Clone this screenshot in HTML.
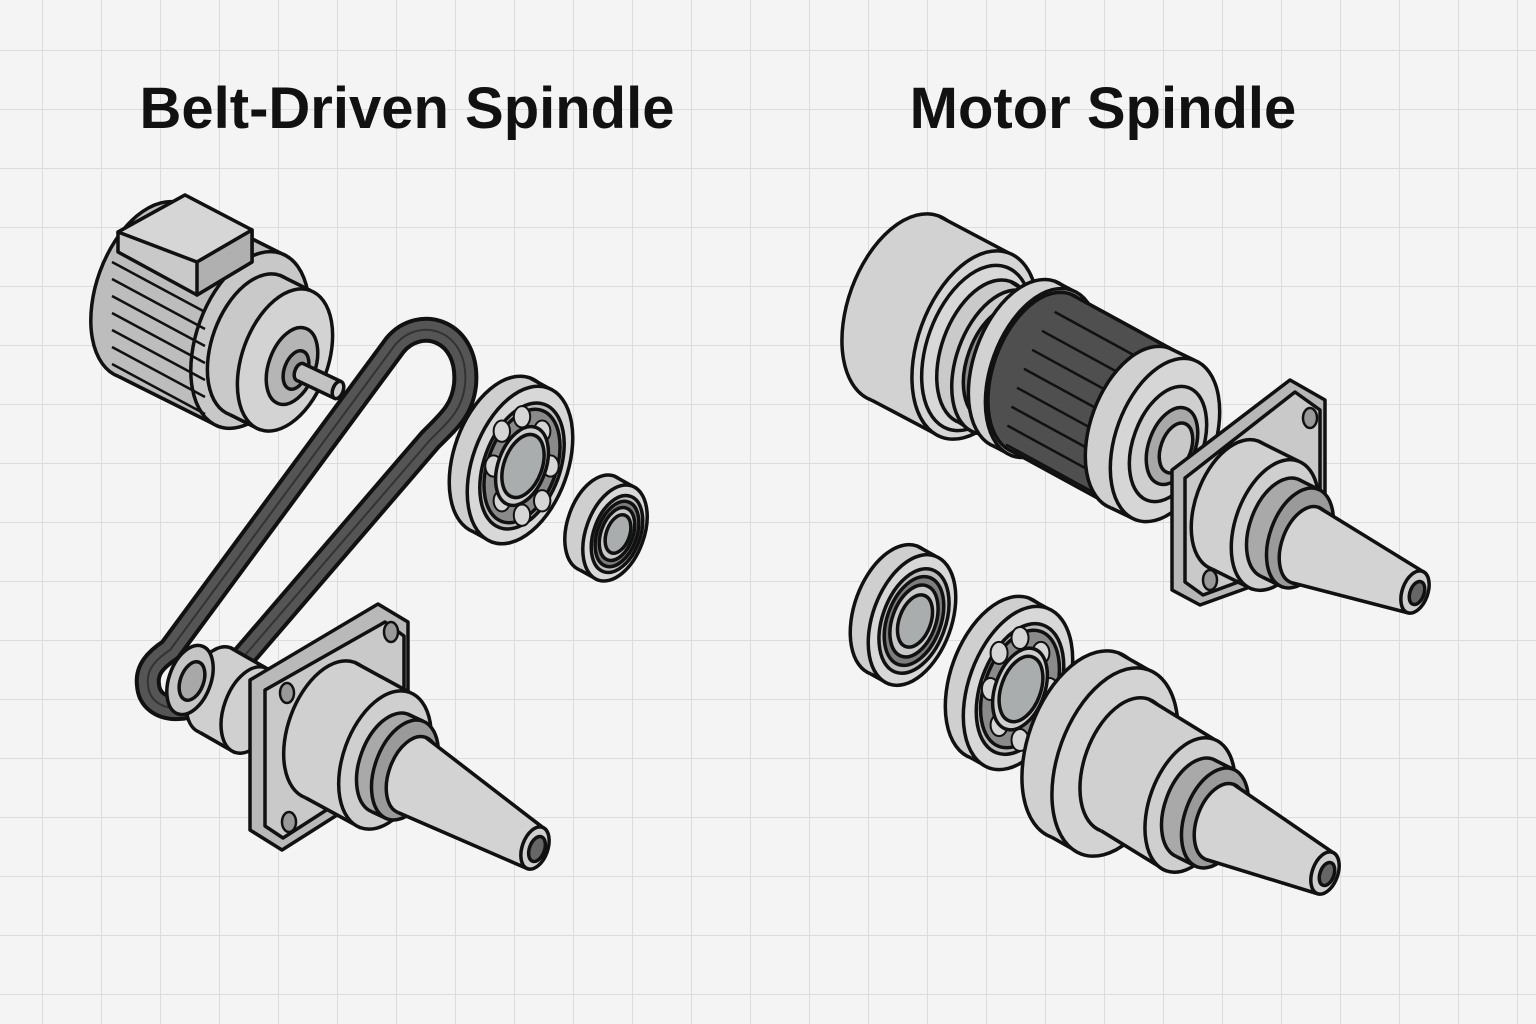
<!DOCTYPE html>
<html><head><meta charset="utf-8">
<style>
html,body{margin:0;padding:0;width:1536px;height:1024px;overflow:hidden;background:#f3f3f3;}
svg{display:block}
</style></head>
<body>
<svg id="s" width="1536" height="1024" viewBox="0 0 1536 1024" xmlns="http://www.w3.org/2000/svg">
<defs>
<pattern id="g" x="42" y="-9" width="59" height="59" patternUnits="userSpaceOnUse">
<path d="M0 0H59M0 0V59" stroke="#dcdcdc" stroke-width="2" fill="none"/>
</pattern>
</defs>
<rect width="1536" height="1024" fill="#f4f4f4"/>
<rect width="1536" height="1024" fill="url(#g)"/>
<text x="407" y="128" text-anchor="middle" font-family="Liberation Sans, sans-serif" font-weight="bold" font-size="58" fill="#111">Belt-Driven Spindle</text>
<text x="1103" y="128" text-anchor="middle" font-family="Liberation Sans, sans-serif" font-weight="bold" font-size="58" fill="#111">Motor Spindle</text>
<g id="d" stroke="#111" stroke-width="3.5" stroke-linejoin="round"></g>
</svg>
<script>
var d=document.getElementById('d'),h='';
var TX=0.34,TY=-0.94;
function E(cx,cy,R,f,sw){h+='<ellipse cx="'+cx+'" cy="'+cy+'" rx="'+(R*0.58)+'" ry="'+R+'" transform="rotate(20 '+cx+' '+cy+')" fill="'+f+'"'+(sw?' stroke-width="'+sw+'"':'')+'/>';}
function C(x1,y1,x2,y2,R1,R2,f,ff){
 h+='<polygon points="'+(x1+R1*TX)+','+(y1+R1*TY)+' '+(x2+R2*TX)+','+(y2+R2*TY)+' '+(x2-R2*TX)+','+(y2-R2*TY)+' '+(x1-R1*TX)+','+(y1-R1*TY)+'" fill="'+f+'"/>';
 E(x1,y1,R1,f);
 h+='<polygon points="'+(x1+R1*TX)+','+(y1+R1*TY)+' '+(x2+R2*TX)+','+(y2+R2*TY)+' '+(x2-R2*TX)+','+(y2-R2*TY)+' '+(x1-R1*TX)+','+(y1-R1*TY)+'" fill="'+f+'" stroke="none"/>';
 h+='<line x1="'+(x1+R1*TX)+'" y1="'+(y1+R1*TY)+'" x2="'+(x2+R2*TX)+'" y2="'+(y2+R2*TY)+'"/>';
 h+='<line x1="'+(x1-R1*TX)+'" y1="'+(y1-R1*TY)+'" x2="'+(x2-R2*TX)+'" y2="'+(y2-R2*TY)+'"/>';
 E(x2,y2,R2,ff||'#d4d4d4');}
function P(pts,f){h+='<polygon points="'+pts+'" fill="'+f+'"/>';}
function bearing(cx,cy,R,balls){
 C(cx-18,cy-10,cx,cy,R,R,'#cfcfcf','#d8d8d8');
 E(cx+2,cy+1,R*0.8,'#bdbdbd');
 if(balls){E(cx+2,cy+1,R*0.72,'#8a8a8a');
  for(var i=0;i<8;i++){var a=i*Math.PI/4,bx=cx+2+R*0.6*0.58*Math.cos(a),by=cy+1+R*0.6*Math.sin(a);h+='<ellipse cx="'+bx+'" cy="'+by+'" rx="'+R*0.1+'" ry="'+R*0.13+'" fill="#d6d6d6" stroke-width="2"/>';}
  E(cx+2,cy+1,R*0.5,'#cfcfcf');}
 else {E(cx+2,cy+1,R*0.68,'#7d7d7d');E(cx+2,cy+1,R*0.55,'#c9c9c9');}
 E(cx+3,cy+1,R*0.4,'#a9adad');
}
/* ---- Left motor ---- */
C(150,290,250,340,92,92,'#bdbdbd','#c8c8c8');
for(var i=0;i<7;i++){var y=262+i*17;h+='<line x1="'+(112)+'" y1="'+(y)+'" x2="'+(205)+'" y2="'+(y+50)+'" stroke-width="2.5"/>';}
P('118,232 185,195 252,230 252,262 197,295 118,252','#c9c9c9');
P('118,232 185,195 252,230 197,262','#d6d6d6');
P('197,262 252,230 252,262 197,295','#b0b0b0');
C(255,345,285,360,74,74,'#c9c9c9','#d3d3d3');
E(292,366,40,'#b5b5b5');
E(296,370,20,'#9c9c9c');
C(300,372,338,390,9,9,'#c2c2c2','#cfcfcf');
/* belt */
var belt='M170,650 L395,345 C420,315 470,330 465,385 C462,410 450,420 430,440 L215,690 C195,715 150,715 148,685 C146,670 155,660 170,650 Z';
h+='<path d="'+belt+'" fill="none" stroke="#111" stroke-width="26"/>';
h+='<path d="'+belt+'" fill="none" stroke="#555" stroke-width="18"/>';
h+='<path d="'+belt+'" fill="none" stroke="#333" stroke-width="2"/>';
/* left bearings */
bearing(520,465,82,true);
bearing(615,533,50,false);
/* left spindle */
C(215,690,250,710,45,45,'#cfcfcf','#d0d0d0');
E(190,680,36,'#c5c5c5');E(192,681,20,'#a8a8a8');
P('250,680 378,604 408,622 408,770 282,850 250,830','#b9b9b9');
P('265,690 385,622 404,636 404,760 283,838 265,826','#c9c9c9');
[[287,693],[391,632],[394,745],[289,822]].forEach(function(p){h+='<ellipse cx="'+p[0]+'" cy="'+p[1]+'" rx="7" ry="10" fill="#999" stroke-width="2.5"/>';});
C(330,730,385,760,72,72,'#d0d0d0','#cfcfcf');
C(390,763,405,770,52,52,'#a9a9a9','#9a9a9a');
C(412,775,535,848,40,22,'#d3d3d3','#cfcfcf');
E(537,849,13,'#666');
/* ---- Right motor spindle ---- */
C(905,308,975,345,98,98,'#d2d2d2','#d6d6d6');
E(977,348,86,'#d8d8d8');
C(985,352,1000,362,75,75,'#cacaca','#cdcdcd');
E(1002,363,60,'#8d8d8d');E(1004,364,48,'#c3c3c3');E(1006,365,36,'#b5b5b5');
C(1025,364,1042,373,88,88,'#d2d2d2','#d8d8d8');
C(1042,373,1150,432,84,84,'#4f4f4f','#5a5a5a');
for(var i=0;i<8;i++){var t=-0.85+i*0.24;h+='<line x1="'+(1042-t*84*TX-22*Math.sqrt(1-t*t))+'" y1="'+(373-t*84*TY+6)+'" x2="'+(1150-t*84*TX-22*Math.sqrt(1-t*t))+'" y2="'+(432-t*84*TY+6)+'" stroke-width="2.5"/>';}
C(1140,428,1165,440,85,85,'#d0d0d0','#d6d6d6');
E(1168,444,60,'#cfcfcf');E(1172,446,40,'#a8a8a8');E(1176,448,26,'#c8c8c8');
P('1172,470 1290,380 1325,400 1325,560 1200,605 1172,590','#b7b7b7');
P('1185,478 1295,392 1320,410 1320,552 1203,595 1185,582','#c9c9c9');
[[1210,500],[1310,418],[1312,538],[1210,580]].forEach(function(p){h+='<ellipse cx="'+p[0]+'" cy="'+p[1]+'" rx="7" ry="10" fill="#999" stroke-width="2.5"/>';});
C(1235,505,1275,525,68,68,'#d0d0d0','#cfcfcf');
C(1280,528,1300,538,52,52,'#a9a9a9','#9a9a9a');
C(1305,545,1415,592,40,22,'#d3d3d3','#cfcfcf');
E(1417,593,12,'#666');
/* right lower */
bearing(912,620,68,false);
bearing(1018,688,85,true);
C(1085,745,1115,762,98,98,'#d0d0d0','#d3d3d3');
C(1125,765,1190,805,70,70,'#d0d0d0','#cfcfcf');
C(1195,808,1215,818,52,52,'#a9a9a9','#9a9a9a');
C(1220,822,1325,873,40,22,'#d3d3d3','#cfcfcf');
E(1327,874,12,'#666');
d.innerHTML=h;
</script>
</body></html>
